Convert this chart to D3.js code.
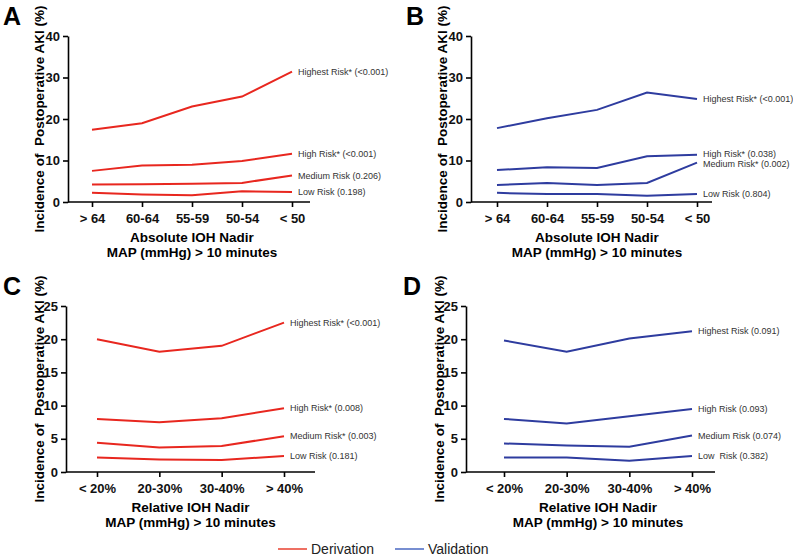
<!DOCTYPE html>
<html>
<head>
<meta charset="utf-8">
<script src="https://cdn.jsdelivr.net/npm/d3@7"></script>
<style>
  body { margin: 0; background: #fff; }
  svg { display: block; font-family: Arial, 'Liberation Sans', Helvetica, sans-serif; }
</style>
</head>
<body>
<div id="chart"></div>
<script>
// Categories
const absCats = ['> 64', '60-64', '55-59', '50-54', '< 50'];
const relCats = ['< 20%', '20-30%', '30-40%', '> 40%'];

// Panel A - absolute nadir, derivation
const aHighest = [17.4, 19.0, 23.0, 25.4, 31.4];
const aHigh    = [7.5, 8.8, 9.0, 9.9, 11.6];
const aMedium  = [4.2, 4.3, 4.4, 4.6, 6.4];
const aLow     = [2.2, 1.8, 1.6, 2.6, 2.4];
const aLabels  = ['Highest Risk* (<0.001)', 'High Risk* (<0.001)', 'Medium Risk (0.206)', 'Low Risk (0.198)'];

// Panel B - absolute nadir, validation
const bHighest = [17.8, 20.2, 22.2, 26.4, 24.8];
const bHigh    = [7.7, 8.4, 8.2, 11.0, 11.4];
const bMedium  = [4.1, 4.6, 4.1, 4.6, 9.5];
const bLow     = [2.2, 1.9, 1.9, 1.5, 1.9];
const bLabels  = ['Highest Risk* (<0.001)', 'High Risk* (0.038)', 'Medium Risk* (0.002)', 'Low Risk (0.804)'];

// Panel C - relative nadir, derivation
const cHighest = [20.0, 18.1, 19.0, 22.5];
const cHigh    = [8.0, 7.5, 8.1, 9.6];
const cMedium  = [4.4, 3.7, 3.9, 5.4];
const cLow     = [2.2, 1.9, 1.8, 2.4];
const cLabels  = ['Highest Risk* (<0.001)', 'High Risk* (0.008)', 'Medium Risk* (0.003)', 'Low Risk (0.181)'];

// Panel D - relative nadir, validation
const dHighest = [19.8, 18.1, 20.1, 21.2];
const dHigh    = [8.0, 7.3, 8.4, 9.5];
const dMedium  = [4.3, 4.0, 3.8, 5.5];
const dLow     = [2.2, 2.2, 1.7, 2.4];
const dLabels  = ['Highest Risk (0.091)', 'High Risk (0.093)', 'Medium Risk (0.074)', 'Low  Risk (0.382)'];

const absTitle = 'Absolute IOH Nadir';
const relTitle = 'Relative IOH Nadir';
const subTitle = 'MAP (mmHg) > 10 minutes';
const yTitle = 'Incidence of  Postoperative AKI (%)';

const RED = '#e8271f';
const BLUE = '#2e3c9f';

const svg = d3.select('#chart').append('svg')
  .attr('width', 793)
  .attr('height', 558);

const panels = [
  {letter: 'A', ox: 0,   oy: 0,   left: 68, top: 36, bottom: 202, right: 310, x0: 92,  x1: 292,
   cats: absCats, yMax: 40, ticks: [0, 10, 20, 30, 40], series: [aHighest, aHigh, aMedium, aLow], labels: aLabels, color: RED, title: absTitle},
  {letter: 'B', ox: 403, oy: 0,   left: 68, top: 36, bottom: 202, right: 309, x0: 94,  x1: 294,
   cats: absCats, yMax: 40, ticks: [0, 10, 20, 30, 40], series: [bHighest, bHigh, bMedium, bLow], labels: bLabels, color: BLUE, title: absTitle},
  {letter: 'C', ox: 0,   oy: 270, left: 66, top: 36, bottom: 202, right: 315, x0: 97,  x1: 284,
   cats: relCats, yMax: 25, ticks: [0, 5, 10, 15, 20, 25], series: [cHighest, cHigh, cMedium, cLow], labels: cLabels, color: RED, title: relTitle},
  {letter: 'D', ox: 400, oy: 270, left: 66, top: 36, bottom: 202, right: 315, x0: 104, x1: 292,
   cats: relCats, yMax: 25, ticks: [0, 5, 10, 15, 20, 25], series: [dHighest, dHigh, dMedium, dLow], labels: dLabels, color: BLUE, title: relTitle}
];

panels.forEach(p => {
  const g = svg.append('g').attr('transform', `translate(${p.ox},${p.oy})`);

  const x = d3.scalePoint().domain(p.cats).range([p.x0, p.x1]);
  const y = d3.scaleLinear().domain([0, p.yMax]).range([p.bottom, p.top]);

  // panel letter
  g.append('text')
    .attr('x', 3).attr('y', 25)
    .style('font-size', '25px').style('font-weight', 'bold')
    .text(p.letter);

  // Y axis
  const yAxis = g.append('g')
    .attr('transform', `translate(${p.left},0)`)
    .call(d3.axisLeft(y).tickValues(p.ticks).tickSize(5).tickPadding(3).tickSizeOuter(0));
  yAxis.select('.domain').attr('stroke-width', 1.6);
  yAxis.selectAll('line').attr('stroke-width', 1.6);
  yAxis.selectAll('text')
    .style('font-size', '13px').style('font-weight', 'bold').attr('fill', '#111');

  // X axis
  const xAxis = g.append('g')
    .attr('transform', `translate(0,${p.bottom})`)
    .call(d3.axisBottom(x).tickSize(5).tickPadding(7).tickSizeOuter(0));
  xAxis.select('.domain').attr('d', `M${p.left},0H${p.right}`).attr('stroke-width', 1.6);
  xAxis.selectAll('line').attr('stroke-width', 1.6);
  xAxis.selectAll('text')
    .style('font-size', '13px').style('font-weight', 'bold').attr('fill', '#111');

  // Axis titles
  const cx = (p.x0 + p.x1) / 2;
  g.append('text')
    .attr('x', cx).attr('y', p.bottom + 40)
    .attr('text-anchor', 'middle')
    .style('font-size', '13.5px').style('font-weight', 'bold')
    .text(p.title);
  g.append('text')
    .attr('x', cx).attr('y', p.bottom + 55)
    .attr('text-anchor', 'middle')
    .style('font-size', '13.5px').style('font-weight', 'bold')
    .text(subTitle);

  g.append('text')
    .attr('transform', `translate(44,${(p.top + p.bottom) / 2}) rotate(-90)`)
    .attr('text-anchor', 'middle')
    .style('font-size', '13.5px').style('font-weight', 'bold')
    .style('white-space', 'pre')
    .text(yTitle);

  // Lines
  const line = d3.line()
    .x((d, i) => x(p.cats[i]))
    .y(d => y(d));

  p.series.forEach(s => {
    g.append('path')
      .datum(s)
      .attr('fill', 'none')
      .attr('stroke', p.color)
      .attr('stroke-width', 2)
      .attr('d', line);
  });

  // End labels, nudged apart if they collide
  const ly = p.series.map(s => y(s[s.length - 1]));
  for (let k = 0; k < 20; k++) {
    for (let i = 0; i < ly.length - 1; i++) {
      const gap = ly[i + 1] - ly[i];
      if (gap < 10) {
        const push = (10 - gap) / 2;
        ly[i] -= push;
        ly[i + 1] += push;
      }
    }
  }
  p.labels.forEach((t, i) => {
    g.append('text')
      .attr('x', p.x1 + 6).attr('y', ly[i])
      .attr('dy', '0.35em')
      .style('font-size', '9px')
      .style('white-space', 'pre')
      .attr('fill', '#333')
      .text(t);
  });
});

// Legend
const legend = [
  {name: 'Derivation', color: '#e8412f', x: 278},
  {name: 'Validation', color: '#4a68c2', x: 395}
];
legend.forEach(l => {
  svg.append('line')
    .attr('x1', l.x).attr('x2', l.x + 29)
    .attr('y1', 549).attr('y2', 549)
    .attr('stroke', l.color).attr('stroke-width', 1.5);
  svg.append('text')
    .attr('x', l.x + 33).attr('y', 549)
    .attr('dy', '0.35em')
    .style('font-size', '14px')
    .attr('fill', '#222')
    .text(l.name);
});
</script>
</body>
</html>
